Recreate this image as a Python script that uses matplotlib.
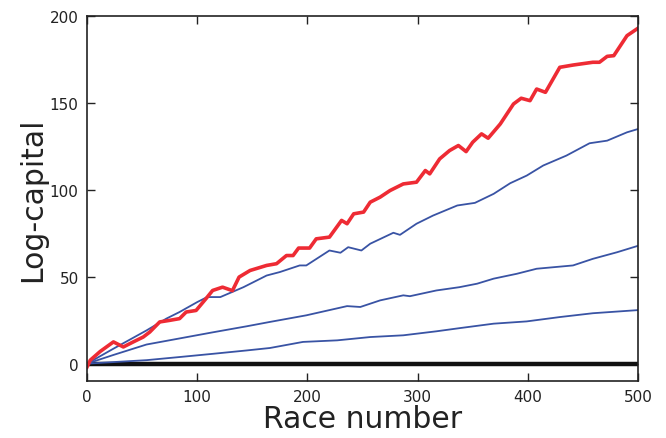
import matplotlib
matplotlib.use("Agg")
import matplotlib.pyplot as plt

# red (best) strategy
red_x = [0, 3, 12, 24, 33, 42, 51, 57, 66, 75, 84, 90, 99, 108, 114, 123, 132, 138,
         148, 163, 172, 181, 187, 192, 202, 208, 220, 231, 236, 242, 251, 257, 266,
         275, 287, 299, 307, 311, 320, 329, 337, 344, 350, 358, 364, 375, 387, 394,
         402, 408, 416, 429, 441, 459, 465, 472, 478, 490, 500]
red_y = [-2, 2, 7, 12.5, 9.6, 12.5, 15.3, 18.2, 24, 24.9, 25.9, 29.7, 30.6, 37.4,
         42.1, 44, 42, 49.8, 53.6, 56.5, 57.5, 62.2, 62.2, 66.5, 66.5, 71.8, 72.8,
         82.4, 80.5, 86.2, 87.2, 92.9, 95.8, 99.6, 103.4, 104.4, 111.1, 109.2, 117.8,
         122.6, 125.5, 122, 127.4, 132.2, 129.7, 137.9, 149.4, 152.7, 151.3, 158,
         156.1, 170.5, 171.8, 173.4, 173.4, 176.8, 177.2, 188.7, 193]

b1_x = [0, 24, 54, 72, 84, 100, 109, 121, 142, 163, 175, 193, 199, 220, 230, 237,
        249, 257, 278, 284, 299, 314, 336, 352, 369, 384, 399, 414, 435, 456, 472,
        490, 500]
b1_y = [0, 8.6, 19.1, 25.9, 29.7, 35.4, 38.3, 38.3, 44, 50.7, 52.7, 56.5, 56.5,
        65.1, 63.8, 67, 65.1, 69, 75.3, 74.1, 80.5, 85.2, 91, 92.5, 97.7, 103.8,
        108.2, 114, 119.7, 126.8, 128.3, 133.1, 135]

b2_x = [0, 24, 54, 84, 114, 145, 166, 199, 236, 248, 266, 287, 293, 317, 338,
        354, 369, 390, 408, 441, 459, 481, 500]
b2_y = [0, 5, 11, 14.5, 18, 21.5, 24, 27.8, 33.1, 32.6, 36.4, 39.3, 38.8, 42.1,
        44, 46, 48.9, 51.7, 54.6, 56.5, 60.3, 64.1, 67.8]

b3_x = [0, 54, 84, 115, 145, 166, 196, 227, 257, 287, 317, 339, 369, 399, 429,
        459, 500]
b3_y = [0, 2, 3.8, 5.7, 7.6, 9, 12.5, 13.4, 15.3, 16.3, 18.6, 20.5, 23, 24.3,
        26.8, 29, 30.8]

flat_x = [0, 500]
flat_y = [0, 0]

blue = '#3953a4'
red = '#ee2b34'

fig = plt.figure(figsize=(6.66, 4.39), dpi=100)
ax = fig.add_axes([0.1306, 0.1298, 0.8274, 0.8314])

ax.plot(flat_x, flat_y, color='#111111', lw=3.2)
ax.plot(b3_x, b3_y, color=blue, lw=1.3)
ax.plot(b2_x, b2_y, color=blue, lw=1.3)
ax.plot(b1_x, b1_y, color=blue, lw=1.3)
ax.plot(red_x, red_y, color=red, lw=2.6)

ax.set_xlim(0, 500)
ax.set_ylim(-10, 200)
ax.set_xticks([0, 100, 200, 300, 400, 500])
ax.set_yticks([0, 50, 100, 150, 200])
ax.tick_params(direction='in', top=True, right=True, length=6, width=1,
               labelsize=11, colors='#222222', pad=6)
for s in ax.spines.values():
    s.set_color('#222222')
    s.set_linewidth(1.2)

ax.set_xlabel('Race number', fontsize=21.5, color='#222222', labelpad=0)
ax.set_ylabel('Log-capital', fontsize=21.5, color='#222222', labelpad=2)

plt.savefig('out.png', dpi=100)
